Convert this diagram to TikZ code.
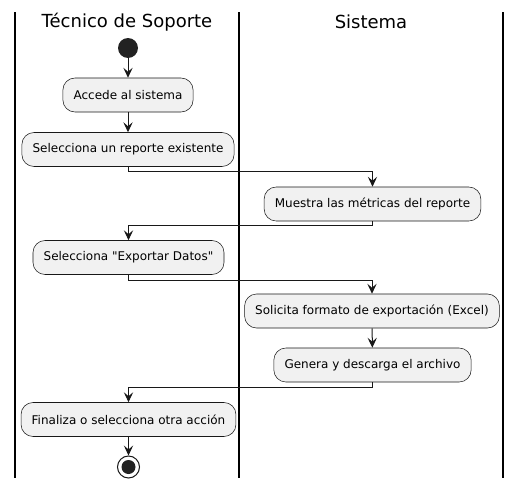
\documentclass[tikz,border=0pt]{standalone}
\usepackage{fontspec}
\setmainfont{DejaVu Sans}[Ligatures=TeXOff]
\usetikzlibrary{arrows.meta}
\definecolor{actfill}{HTML}{F1F1F1}
\definecolor{actline}{HTML}{181818}
\definecolor{dotfill}{HTML}{222222}
\begin{document}
\begin{tikzpicture}[x=.75pt,y=-.75pt,
  act/.style={draw=actline,fill=actfill,rounded corners=9pt,line width=.4pt,minimum height=25.5pt,inner xsep=8pt,font=\fontsize{9}{11}\selectfont},
  flow/.style={-{Stealth[length=7.5pt,width=7pt,inset=3pt]},line width=.75pt,draw=actline},
  lane/.style={line width=1.1pt},
  lanetitle/.style={font=\fontsize{13.5}{16}\selectfont}]
\useasboundingbox (0,0) rectangle (522,489);
\draw[lane](15,12)--(15,478);
\draw[lane](239,12)--(239,478);
\draw[lane](503,12)--(503,478);

\node[lanetitle](tec)at(127,22){Técnico de Soporte};
\node[lanetitle](sis)at(371,22){Sistema};

\node[circle,fill=dotfill,minimum size=15pt,inner sep=0](start)at(128,48){};
\node[act](acc)at(128,95){Accede al sistema};
\node[act](sel)at(128,149.5){Selecciona un reporte existente};
\node[act](mue)at(372.5,204){Muestra las métricas del reporte};
\node[act](exp)at(128.5,257.5){Selecciona "Exportar Datos"};
\node[act](sol)at(372,311){Solicita formato de exportación (Excel)};
\node[act](gen)at(372.5,365){Genera y descarga el archivo};
\node[act](fin)at(128.5,419.5){Finaliza o selecciona otra acción};
\node[circle,draw=actline,fill=white,line width=.75pt,minimum size=16.5pt,inner sep=0](stop)at(128.5,467){};
\fill[dotfill](stop.center)circle(5.25pt);

\draw[flow](start)--(acc);
\draw[flow](acc)--(sel);
\draw[flow](sel.south)--++(0,5)-|(mue.north);
\draw[flow](mue.south)--++(0,4)-|(exp.north);
\draw[flow](exp.south)--++(0,6)-|(sol.north);
\draw[flow](sol)--(gen);
\draw[flow](gen.south)--++(0,5)-|(fin.north);
\draw[flow](fin)--(stop);
\end{tikzpicture}
\end{document}
